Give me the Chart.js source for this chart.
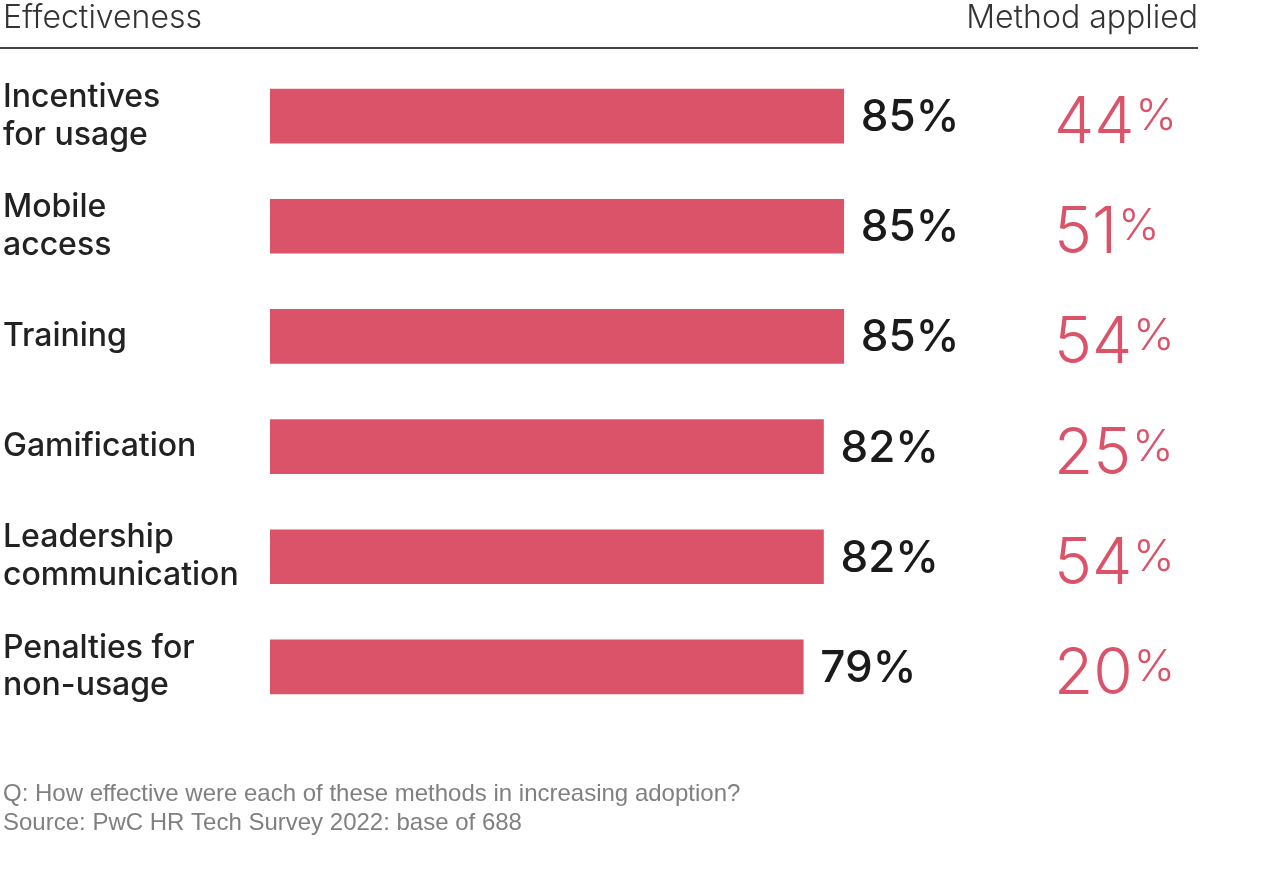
<!DOCTYPE html>
<html>
<head>
<meta charset="utf-8">
<title>Effectiveness vs method applied</title>
<script src="https://cdn.jsdelivr.net/npm/chart.js@4.4.1/dist/chart.umd.min.js"></script>
<style>
  html, body { margin: 0; padding: 0; background: #fff; }
  #chart { display: block; }
</style>
</head>
<body>
<canvas id="chart" width="1280" height="893"></canvas>
<script>
// Dados do grafico
const categories = [
    ['Incentives', 'for usage'],
    ['Mobile', 'access'],
    'Training',
    'Gamification',
    ['Leadership', 'communication'],
    ['Penalties for', 'non-usage']
];
const effectiveness = [85, 85, 85, 82, 82, 79];
const methodApplied = [44, 51, 54, 25, 54, 20];
const headerLeft = 'Effectiveness';
const headerRight = 'Method applied';
const notes = [
    'Q: How effective were each of these methods in increasing adoption?',
    'Source: PwC HR Tech Survey 2022: base of 688'
];

const pink = '#db5369';

// Plugin que desenha cabecalho, valores e rodape
const extras = {
    id: 'extras',
    afterDraw(chart) {
        const ctx = chart.ctx;
        const x = chart.scales.x;
        const y = chart.scales.y;
        ctx.save();

        // cabecalho
        ctx.fillStyle = '#333';
        ctx.font = '300 32px Inter';
        ctx.textBaseline = 'alphabetic';
        ctx.textAlign = 'left';
        ctx.fillText(headerLeft, 3, 28);
        ctx.textAlign = 'right';
        ctx.fillText(headerRight, 1198, 28);
        ctx.strokeStyle = '#444';
        ctx.lineWidth = 2;
        ctx.beginPath();
        ctx.moveTo(0, 48);
        ctx.lineTo(1198, 48);
        ctx.stroke();

        // valores
        effectiveness.forEach((v, i) => {
            const cy = y.getPixelForValue(i);
            ctx.fillStyle = '#1a1a1a';
            ctx.font = '500 44px Inter';
            ctx.textAlign = 'left';
            ctx.textBaseline = 'alphabetic';
            ctx.fillText(v + '%', x.getPixelForValue(v) + 17, cy + 15);

            // metodo aplicado
            const m = String(methodApplied[i]);
            ctx.fillStyle = pink;
            ctx.font = '300 64px Inter';
            ctx.fillText(m, 1054, cy + 27);
            const w = ctx.measureText(m).width;
            ctx.font = '300 44px Inter';
            ctx.fillText('%', 1054 + w + 1, cy + 14);
        });

        // rodape
        ctx.fillStyle = '#808080';
        ctx.font = '400 24px "Liberation Sans"';
        ctx.textAlign = 'left';
        ctx.textBaseline = 'alphabetic';
        ctx.fillText(notes[0], 3, 801);
        ctx.fillText(notes[1], 3, 830);
        ctx.restore();
    }
};

const ctx = document.getElementById('chart').getContext('2d');
const chart = new Chart(ctx, {
    type: 'bar',
    data: {
        labels: categories,
        datasets: [{
            data: effectiveness,
            backgroundColor: pink,
            borderWidth: 0,
            barThickness: 54
        }]
    },
    options: {
        indexAxis: 'y',
        responsive: false,
        animation: false,
        layout: {
            padding: { left: 3, right: 335, top: 61, bottom: 171 }
        },
        plugins: {
            legend: { display: false },
            tooltip: { enabled: false }
        },
        scales: {
            x: {
                min: 0,
                max: 100,
                display: false
            },
            y: {
                grid: { display: false },
                border: { display: false },
                afterFit(scale) { scale.width = 267; },
                ticks: {
                    crossAlign: 'far',
                    color: '#222',
                    font: { family: 'Inter', size: 32, weight: '500', lineHeight: 1.18 }
                }
            }
        }
    },
    plugins: [extras]
});
</script>
</body>
</html>
